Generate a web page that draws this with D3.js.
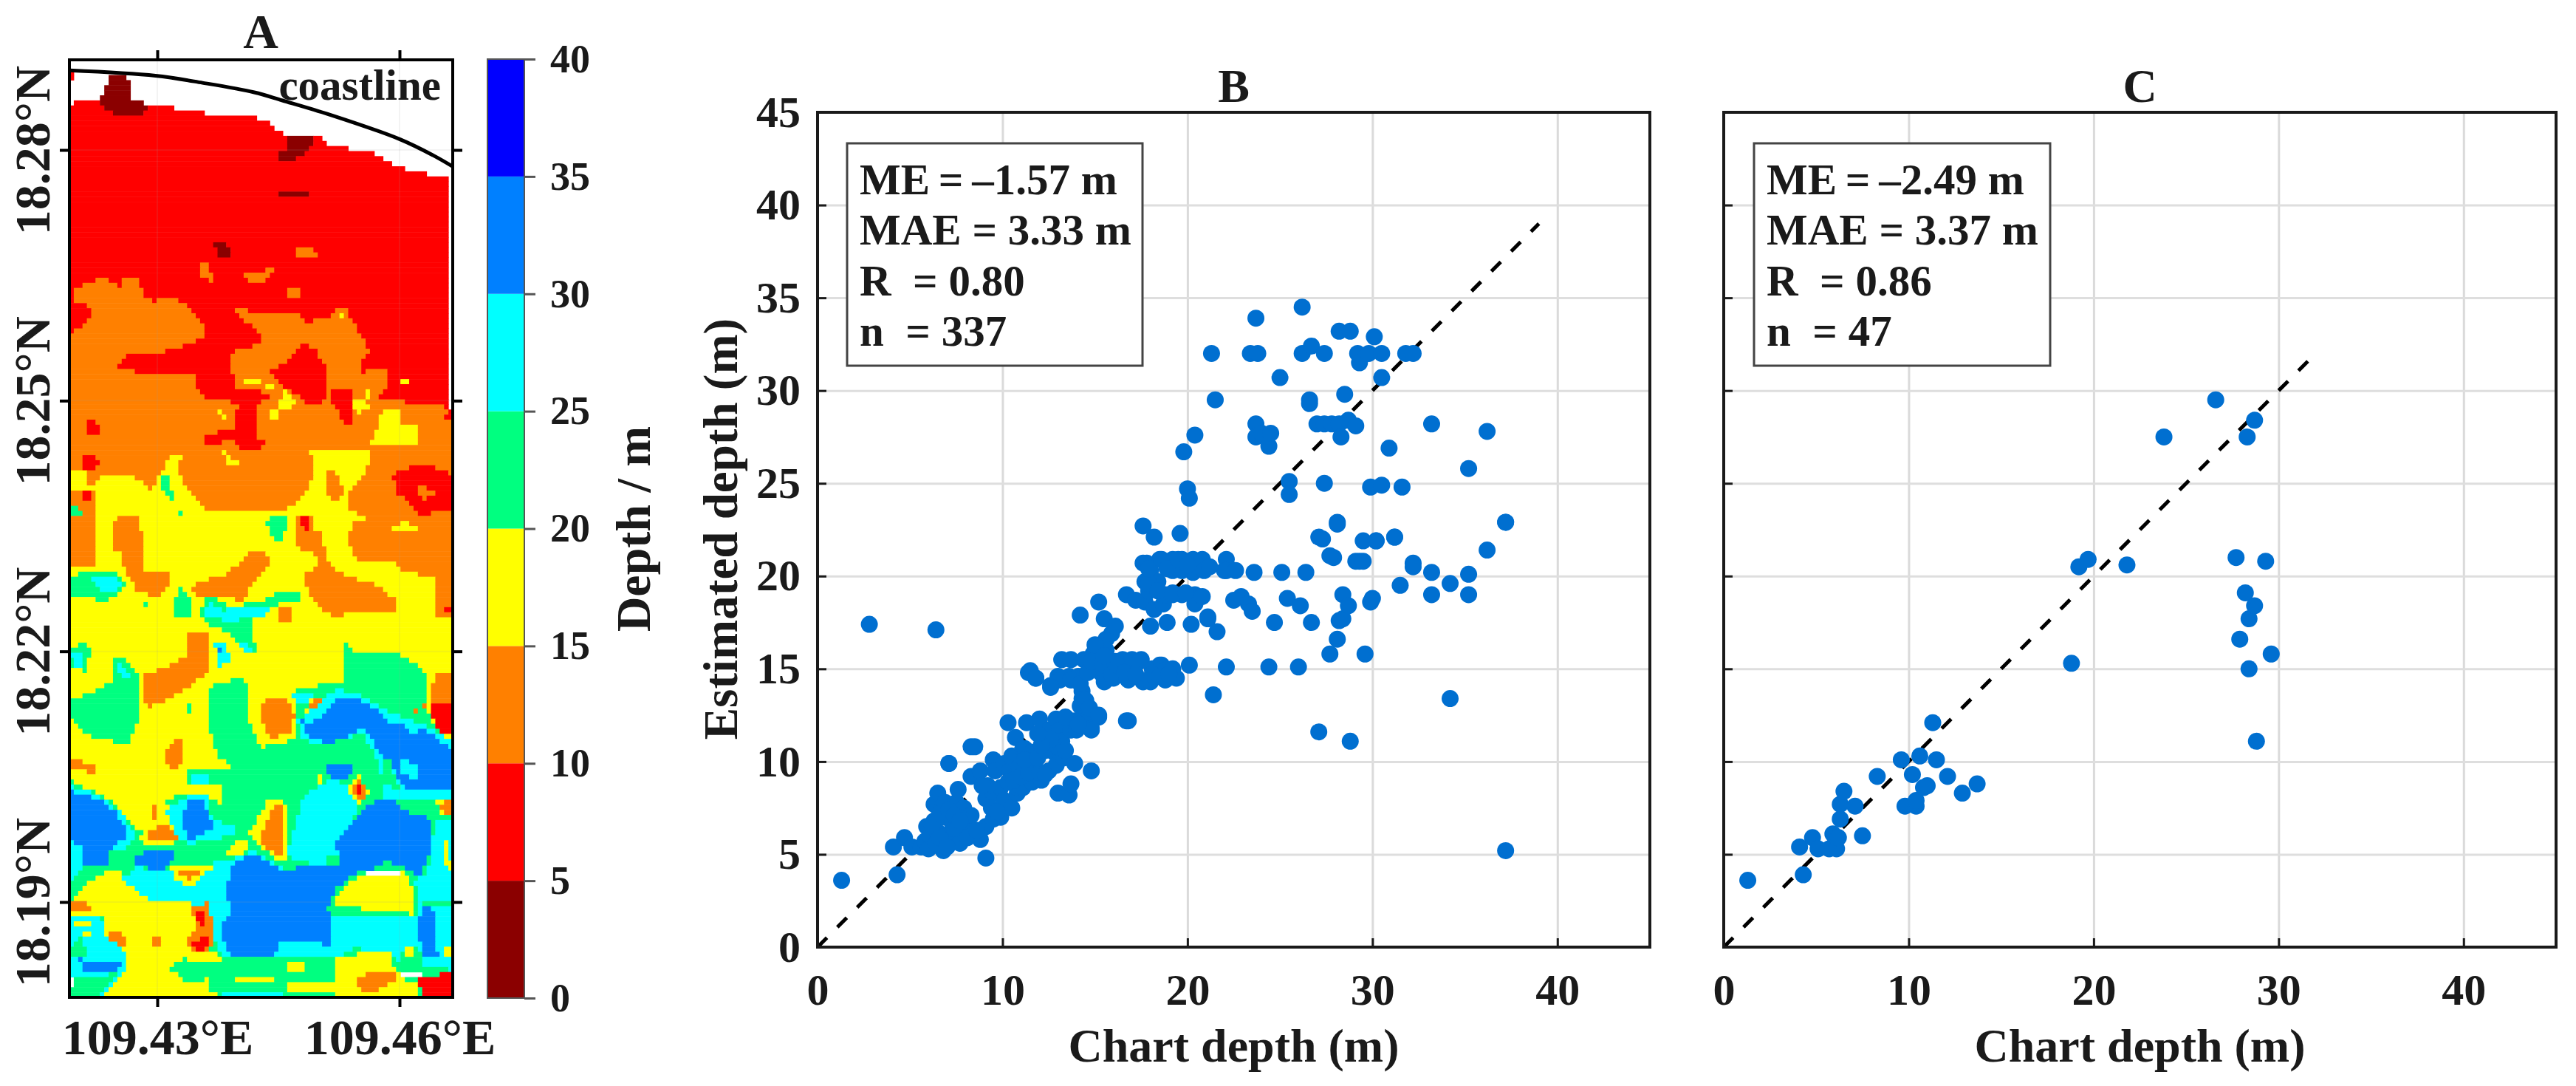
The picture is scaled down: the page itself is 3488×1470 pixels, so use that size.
<!DOCTYPE html>
<html lang="en">
<head>
<meta charset="UTF-8">
<title>Depth map and scatter</title>
<script src="https://cdnjs.cloudflare.com/ajax/libs/d3/7.8.5/d3.min.js"></script>
<style>
    body { margin: 0; background: #fff; }
    svg { display: block; }
    text { font-family: 'Liberation Serif', serif; font-weight: bold; fill: #1a1a1a; }
</style>
</head>
<body>
<div id="chart"></div>
<script>
// colour bar
const depthEdges = [0, 5, 10, 15, 20, 25, 30, 35, 40];
const depthColors = ['#8b0000', '#ff0000', '#ff8000', '#ffff00', '#00ff80', '#00ffff', '#0080ff', '#0000ff'];
const WHITE = 8;

// map ticks
const lonTicks = [109.43, 109.46];
const latTicks = [18.19, 18.22, 18.25, 18.28];
const depthTicksX = [0, 10, 20, 30, 40];
const depthTicksY = [0, 5, 10, 15, 20, 25, 30, 35, 40, 45];

// depth classes of panel A, digitised as outlines on a 147-962 by 170-2823 sheet, painted in order
const sheetSplit = 1505; // lower sheet rows start here
const zonesUpper = [
  [1, [[147,297],[175,282],[205,282],[320,295],[345,295],[390,318],[435,318],[445,327],[530,327],[570,345],[600,378],[670,380],[700,410],[760,428],[795,432],[855,478],[900,492],[952,505],[955,1160],[962,1160],[962,2900],[147,2900]]],
  [1, [[140,195],[160,195],[158,222],[140,225]]],
  [0, [[228,225],[255,205],[270,220],[280,280],[322,298],[300,322],[250,322],[240,340],[235,315],[208,295],[225,250]]],
  [0, [[615,380],[650,382],[665,395],[655,425],[625,450],[610,462],[588,462],[588,430],[610,420]]],
  [0, [[590,535],[655,545],[655,552],[590,550]]],
  [0, [[455,686],[478,690],[490,710],[490,735],[465,735]]],
  [2, [[628,712],[645,695],[665,700],[675,735],[628,735]]],
  [2, [[425,750],[440,750],[452,775],[450,800],[425,780]]],
  [2, [[520,775],[545,770],[585,760],[575,785],[550,800],[530,800]]],
  [2, [[610,825],[630,812],[645,830],[635,850],[615,840]]],
  [2, [[150,825],[175,805],[210,790],[235,795],[260,825],[260,780],[290,780],[305,840],[330,855],[350,840],[380,850],[412,885],[435,925],[500,880],[525,865],[530,890],[620,880],[650,912],[705,895],[730,860],[755,920],[785,1000],[765,1020],[765,1060],[795,1040],[822,1040],[822,1100],[805,1130],[940,1150],[955,1165],[962,1165],[962,2900],[147,2900],[147,945],[190,905],[195,870],[155,850]]],
  [1, [[435,900],[500,880],[530,920],[560,965],[530,985],[495,995],[490,1050],[505,1105],[555,1105],[570,1125],[545,1150],[545,1240],[572,1240],[550,1272],[515,1272],[490,1245],[440,1270],[435,1230],[500,1215],[505,1140],[440,1130],[415,1100],[415,1060],[300,1055],[250,1040],[275,995],[345,995],[405,975],[432,950]]],
  [1, [[645,970],[670,990],[695,1050],[695,1130],[665,1150],[640,1130],[600,1090],[570,1050],[610,1030]]],
  [1, [[700,1095],[745,1100],[750,1200],[735,1205],[700,1130]]],
  [1, [[185,1190],[200,1190],[212,1220],[195,1240],[185,1230]]],
  [1, [[175,1290],[205,1295],[212,1310],[195,1330],[175,1325]]],
  [1, [[945,1170],[962,1165],[962,1190],[945,1195]]],
  [1, [[835,1340],[860,1325],[920,1320],[962,1345],[962,1440],[925,1440],[910,1460],[885,1455],[870,1420],[840,1395]]],
  [2, [[885,1385],[905,1375],[925,1400],[900,1415]]],
  [3, [[520,1068],[550,1068],[550,1082],[522,1082]]],
  [3, [[560,1082],[580,1082],[580,1096],[560,1096]]],
  [3, [[600,1105],[612,1110],[630,1140],[610,1158],[590,1155]]],
  [3, [[455,1160],[470,1160],[485,1185],[465,1180]]],
  [3, [[575,1165],[590,1160],[590,1185],[575,1185]]],
  [3, [[745,1140],[765,1125],[785,1155],[765,1170]]],
  [3, [[775,1105],[785,1105],[785,1132],[775,1132]]],
  [3, [[855,1078],[870,1080],[870,1090],[855,1090]]],
  [3, [[725,880],[735,885],[735,900],[725,895]]],
  [3, [[475,1280],[490,1290],[505,1310],[485,1315]]],
  [3, [[790,1255],[815,1155],[850,1155],[855,1205],[890,1210],[890,1255]]],
  [3, [[660,1275],[780,1280],[815,1240],[790,1275],[780,1330],[735,1400],[740,1440],[780,1470],[745,1480],[745,1568],[962,1568],[962,2900],[147,2900],[147,1330],[185,1330],[185,1375],[205,1385],[205,1360],[225,1340],[280,1345],[320,1390],[340,1340],[360,1290],[385,1290],[380,1340],[400,1390],[430,1440],[600,1450],[650,1400],[670,1340]]],
  [2, [[690,1340],[715,1335],[735,1395],[720,1420],[690,1400]]],
  [2, [[485,1390],[505,1395],[515,1440],[500,1420]]],
  [2, [[147,1385],[205,1395],[205,1568],[147,1568]]],
  [3, [[147,1330],[185,1330],[185,1375],[147,1380]]],
  [1, [[175,1395],[195,1395],[195,1418],[175,1418]]],
  [2, [[235,1480],[255,1455],[290,1460],[300,1568],[235,1568]]],
  [2, [[625,1470],[660,1455],[680,1568],[640,1568],[625,1510]]],
  [1, [[640,1465],[658,1465],[660,1500],[645,1500]]],
  [3, [[825,1490],[860,1480],[890,1490],[880,1510],[835,1505]]],
  [4, [[340,1350],[355,1340],[365,1390],[375,1425],[360,1415],[340,1385]]],
  [4, [[378,1440],[388,1440],[388,1455],[380,1455]]],
  [4, [[147,1435],[165,1435],[175,1460],[147,1460]]],
  [4, [[565,1480],[585,1455],[610,1455],[610,1500],[590,1540],[575,1510]]]
];
const zonesLower = [
  [2, [[147,0],[205,0],[205,105],[147,105]]],
  [2, [[240,0],[300,0],[300,110],[360,120],[355,155],[340,190],[290,165],[265,110]]],
  [2, [[400,155],[480,120],[540,50],[580,70],[560,110],[510,200],[480,180],[430,190]]],
  [2, [[640,125],[680,100],[660,40],[650,0],[680,0],[700,100],[750,130],[800,150],[845,200],[845,225],[740,225],[715,250],[660,190]]],
  [2, [[740,0],[962,0],[962,250],[930,245],[920,130],[850,110],[840,85],[760,80],[745,50]]],
  [2, [[595,215],[615,215],[615,255],[595,255]]],
  [1, [[945,210],[958,210],[958,225],[945,225]]],
  [2, [[305,405],[370,375],[400,345],[400,285],[440,285],[445,390],[420,420],[380,460],[310,500]]],
  [2, [[345,640],[380,580],[392,590],[390,650],[370,680]]],
  [2, [[147,645],[205,660],[205,690],[170,675],[147,680]]],
  [4, [[147,125],[190,115],[245,120],[272,155],[250,175],[215,205],[190,180],[147,180]]],
  [5, [[195,135],[240,130],[260,150],[240,170],[210,165]]],
  [4, [[365,235],[380,155],[410,205],[405,240]]],
  [4, [[305,195],[320,215],[305,220]]],
  [4, [[420,240],[440,180],[490,215],[560,195],[605,165],[640,170],[640,195],[590,205],[530,255],[545,345],[520,335],[505,310],[490,290],[445,265]]],
  [5, [[430,235],[445,195],[470,225],[500,215],[575,210],[560,240],[510,250],[470,250]]],
  [5, [[455,320],[480,310],[490,375],[465,380]]],
  [6, [[458,330],[470,330],[470,345],[460,345]]],
  [5, [[505,315],[525,315],[540,345],[515,335]]],
  [4, [[147,330],[180,310],[195,340],[180,395],[147,380]]],
  [5, [[147,345],[180,340],[175,390],[155,375]]],
  [4, [[240,360],[260,355],[295,410],[295,510],[285,570],[270,605],[180,575],[147,515],[147,480],[205,450],[245,420]]],
  [5, [[250,375],[280,400],[270,415],[250,400]]],
  [4, [[395,490],[402,490],[402,510],[395,510]]],
  [2, [[345,640],[380,580],[392,590],[390,650],[370,680]]],
  // broad green of the south half
  [4, [[440,445],[470,425],[520,415],[530,480],[525,530],[555,610],[625,590],[625,450],[690,430],[735,420],[735,310],[750,345],[850,345],[905,400],[905,460],[962,600],[962,1400],[147,1400],[147,705],[200,735],[250,775],[290,840],[315,860],[360,880],[385,870],[375,800],[345,760],[400,740],[440,745],[470,770],[470,715],[400,715],[395,680],[470,675],[510,655],[470,650],[450,600]]],
  [3, [[230,708],[265,710],[265,718],[230,716]]],
  [5, [[405,680],[440,680],[440,715],[405,712]]],
  [3, [[925,395],[962,395],[962,620],[905,510],[905,460]]],
  [2, [[925,395],[962,395],[962,480],[920,485],[880,510],[915,480]]],
  [1, [[920,485],[962,480],[962,570],[935,575],[920,530]]],
  [2, [[558,480],[610,475],[625,520],[615,575],[570,585],[555,530]]],
  [5, [[620,460],[660,450],[670,470],[640,490]]],
  [3, [[650,525],[655,475],[685,465],[695,500],[675,530]]],
  [2, [[658,520],[662,478],[680,472],[688,500],[670,522]]],
  // blue on the east side with its cyan rim
  [5, [[630,540],[715,445],[760,460],[830,510],[900,545],[962,590],[962,755],[820,750],[800,640],[770,570],[690,605],[645,590]]],
  [6, [[640,535],[660,545],[705,500],[715,465],[760,470],[805,505],[830,545],[860,550],[880,575],[900,555],[962,620],[962,735],[880,735],[850,720],[840,680],[815,640],[790,590],[770,560],[720,590],[700,600],[650,575]]],
  [4, [[810,640],[835,640],[835,680],[850,725],[810,720]]],
  [5, [[850,640],[885,660],[885,710],[850,680]]],
  [6, [[695,665],[750,660],[750,690],[715,715],[700,700]]],
  [3, [[675,690],[685,690],[685,715],[675,715]]],
  // south: cyan base, blue block
  [5, [[258,985],[285,950],[370,960],[480,930],[540,905],[610,960],[700,950],[760,970],[880,985],[910,960],[925,810],[962,810],[962,1240],[850,1230],[830,1190],[750,1180],[710,1210],[600,1200],[560,1230],[475,1210],[440,1100],[400,1050],[320,1045]]],
  [5, [[610,920],[620,860],[645,750],[700,700],[745,720],[760,780],[740,860],[710,880],[725,925],[700,950],[640,935]]],
  [5, [[780,745],[962,740],[962,755],[830,755]]],
  [6, [[700,890],[750,830],[780,770],[830,755],[875,800],[915,810],[915,900],[890,980],[855,950],[820,930],[780,965],[750,980],[700,1050],[700,1150],[705,1175],[650,1155],[590,1160],[585,1200],[490,1200],[465,1130],[490,1070],[480,1010],[495,940],[540,910],[600,960],[650,945],[700,950],[725,930],[715,890]]],
  [4, [[695,920],[720,920],[720,950],[700,950]]],
  [3, [[740,730],[762,692],[786,735],[765,772]]],
  [2, [[745,730],[762,698],[782,735],[765,768]]],
  [1, [[752,730],[765,715],[772,740],[765,755]]],
  // west blue patches
  [5, [[147,720],[210,745],[260,800],[285,860],[270,895],[147,895]]],
  [6, [[147,735],[205,755],[245,790],[270,850],[260,880],[190,885],[147,880]]],
  [6, [[172,885],[240,890],[225,920],[245,935],[175,950]]],
  [5, [[147,885],[172,885],[170,960],[147,990]]],
  [6, [[280,930],[310,900],[365,900],[365,935],[340,965],[290,940]]],
  [5, [[350,790],[400,745],[440,750],[450,810],[500,840],[500,860],[400,885],[375,870]]],
  [6, [[385,810],[400,755],[430,755],[440,800],[460,830],[400,875]]],
  [3, [[295,850],[360,880],[385,875],[365,885],[300,880]]],
  [2, [[335,830],[360,835],[385,870],[315,870],[310,860]]],
  [2, [[325,780],[335,780],[335,820],[325,820]]],
  // central wedge
  [3, [[530,850],[570,760],[605,755],[610,935],[590,935],[545,880]]],
  [2, [[550,880],[580,780],[600,780],[600,925]]],
  [3, [[480,910],[500,870],[525,880],[520,910]]],
  // south-west yellow
  [3, [[147,1045],[180,1000],[240,950],[262,965],[262,990],[320,1045],[400,1050],[445,1110],[445,1180],[480,1210],[470,1318],[215,1318],[270,1240],[270,1190],[225,1150],[215,1085],[147,1085]]],
  [3, [[362,950],[450,950],[405,1005],[375,985]]],
  [2, [[375,960],[430,960],[405,985]]],
  [2, [[225,1140],[260,1130],[265,1170],[235,1170]]],
  [2, [[320,1145],[345,1155],[345,1180],[320,1175]]],
  [2, [[147,1045],[190,1055],[190,1080],[147,1075]]],
  [2, [[405,1060],[440,1050],[455,1130],[445,1190],[415,1195],[395,1160],[420,1120]]],
  [1, [[415,1075],[440,1085],[435,1115],[415,1100]]],
  [1, [[405,1160],[440,1145],[440,1175],[420,1190]]],
  [4, [[360,1235],[390,1210],[470,1220],[470,1318],[420,1280],[395,1280]]],
  [3, [[410,1285],[440,1260],[450,1318],[420,1318]]],
  [5, [[147,1090],[215,1090],[225,1150],[270,1190],[270,1240],[215,1318],[147,1318]]],
  [3, [[160,1105],[190,1105],[190,1118],[160,1118]]],
  [3, [[175,1130],[195,1130],[195,1145],[175,1145]]],
  [4, [[147,1180],[170,1150],[190,1200],[147,1210]]],
  [6, [[170,1210],[260,1225],[240,1245],[175,1240]]],
  [4, [[147,1265],[250,1250],[210,1318],[147,1318]]],
  [3, [[160,1270],[230,1270],[230,1282],[160,1282]]],
  [WHITE, [[150,1262],[160,1262],[160,1292],[150,1292]]],
  // yellow patch with green rim on the south-east
  [4, [[695,1070],[715,1010],[770,955],[860,955],[890,1020],[885,1095],[705,1085]]],
  [3, [[705,1060],[720,1015],[775,965],[860,965],[880,1020],[880,1085],[850,1075],[790,1070]]],
  [WHITE, [[780,962],[850,962],[850,972],[780,972]]],
  [6, [[900,1060],[920,1060],[925,1180],[950,1210],[905,1210],[885,1130]]],
  [4, [[895,1040],[962,1050],[962,1065],[895,1060]]],
  [3, [[940,880],[955,870],[958,955],[945,950]]],
  [3, [[928,762],[962,755],[962,805],[940,810]]],
  [2, [[935,770],[958,762],[958,800],[945,805]]],
  [3, [[945,1180],[958,1180],[958,1200],[945,1200]]],
  // bottom strip
  [4, [[470,1210],[600,1200],[710,1210],[710,1318],[460,1318]]],
  [3, [[500,1255],[580,1255],[580,1270],[500,1270]]],
  [3, [[610,1280],[710,1280],[710,1300],[610,1300]]],
  [3, [[610,1220],[650,1220],[650,1240],[610,1240]]],
  [5, [[475,1300],[600,1305],[600,1318],[475,1318]]],
  [3, [[710,1200],[830,1190],[840,1240],[890,1250],[890,1318],[710,1318]]],
  [2, [[755,1265],[800,1240],[835,1250],[850,1265],[800,1300],[770,1300]]],
  [4, [[850,1190],[890,1170],[900,1235],[850,1230]]],
  [3, [[860,1180],[880,1175],[880,1200],[860,1200]]],
  [1, [[890,1260],[962,1250],[962,1318],[895,1318]]],
  [WHITE, [[855,1250],[895,1250],[895,1256],[855,1256]]],
  [4, [[862,1262],[885,1262],[880,1280],[865,1280]]],
  [7, [[908,1226],[920,1226],[920,1238],[908,1238]]]
];
const coastLon = [147,330,430,540,600,700,850,920,962];
const coastLat = [200,215,235,262,285,325,395,440,472];

// panel B
const chartB = [1.3,4.3,4.1,4.7,5.1,5.6,5.8,5.9,6,6.1,6.3,6.3,6.4,6.5,6.5,6.7,6.8,6.9,6.9,6.9,7.1,7.2,7.3,7.5,7.5,7.6,7.6,7.7,7.9,8,8.3,8.3,8.3,8.5,8.8,8.8,9.1,9.1,9.1,9.5,9.5,9.5,9.6,9.9,9.9,10,10.1,10.1,10.3,10.4,10.5,10.5,10.7,10.8,10.8,10.9,11.1,11.1,11.2,11.3,11.5,11.6,11.6,11.7,11.8,12,12.1,12.5,12.5,12.6,12.8,12.9,12.9,13,13,13.1,13.2,13.2,13.3,13.6,13.6,13.7,13.7,13.7,13.9,14,14.1,14.2,14.3,14.3,14.3,14.4,14.5,14.6,14.7,14.8,14.8,14.8,14.9,15.1,15.2,15.2,15.3,15.5,15.5,15.6,15.6,15.8,15.9,15.9,16.1,16.1,16.3,16.5,16.8,17,17.5,17.6,18.5,18.8,2.8,6.4,7.1,8.3,11.4,11.8,13.1,13.7,14.2,12.6,14.2,15.2,16,16.7,16.8,17.2,17.4,17.6,17.6,17.7,17.7,17.8,17.9,18,18,18,18.1,18.2,18.2,18.4,18.5,18.6,18.7,18.8,18.8,18.9,18.9,19.2,19.2,19.2,19.2,19.4,19.6,19.7,19.7,19.7,20.1,20.2,20.3,20.3,20.3,20.4,20.4,20.8,20.8,20.9,21.1,21.1,21.4,21.6,22,22.1,22.1,22.1,22.5,22.6,22.9,23.3,23.5,23.6,24.4,24.7,25.1,25.4,26,26.1,26.4,26.7,27.1,27.3,27.7,27.9,28.1,28.1,28.2,28.4,28.4,28.7,28.8,29.3,29.5,29.6,29.9,30,30.2,31.2,31.5,32.2,32.2,33.2,33.2,34.2,34.2,35.2,35.2,37.2,16.7,19.8,20,20.1,20.4,21.3,21.5,23.4,23.7,23.7,23.7,23.8,24,24.4,24.5,25,25.5,25.5,26.2,26.2,26.6,26.6,26.7,27,27.1,27.4,27.4,27.4,27.7,27.8,28.1,28.2,28.2,28.3,28.5,28.7,28.8,29.1,29.1,29.2,29.3,29.5,29.8,29.9,30.1,30.2,30.5,30.5,30.5,30.9,31.2,31.6,31.8,32.2,33.2,35.2,36.2,36.2,37.2,37.2,6.2,6.6,7,7.4,7.8,8.1,8.6,6.6,7.1,7.4,7.7,9.4,9.7,9.2,8.9,10.3,10.6,11,11.4,12,12.3,11.2,11.9,12.3,13,13.4,12.6,12.1,11.9,13.9,13.4,14.1,14.6,14.8,15,15.4,15.9,16.2,16.6,17.2,15.5,18.1,18.5,19,17.9,17.9,18.6,18.9,19.5,20,21.2,18.4,19.2,19.9];
const estimatedB = [3.6,3.9,5.4,5.9,5.4,5.4,5.7,6.5,5.3,6,7.7,6.8,5.6,8.3,6.2,7.4,5.2,6,7,7.8,9.9,6.2,6.7,5.7,7.8,8.5,6.2,5.6,7.5,6.5,9.2,7.1,6.2,10.8,5.8,9.5,6.5,8,4.8,10.1,8.3,6.9,9.5,7,8.6,7.5,9.9,7.9,12.1,9.5,7.5,10.3,11.3,8.3,8.6,9.7,10.7,8.6,10.7,12.1,14.9,10.5,8.9,9.8,14.5,12.3,9,9.5,11.7,14.1,10.5,9.8,12.3,14.6,8.3,11.7,15.5,11.1,10.2,14.6,8.2,15.5,11.7,8.8,9.9,11.7,14.6,13,13.4,13.8,12.3,15.5,13.3,12.3,12.9,9.5,11.8,11.7,15.8,16.2,12.4,12.5,14.8,14.3,17.7,16,16.6,15.4,15.1,16.9,17.3,15.4,14.7,15.5,14.4,15.5,15.5,14.3,15.2,14.4,17.4,17.1,9.9,10.8,14.8,14.5,14.4,14.4,14.2,14,17.9,18.6,14.5,19,12.2,18.7,15.4,20.7,22.7,18.6,19.7,20.7,19.2,17.3,20.3,14.3,15,22.1,18.2,19.7,20.9,15.2,18.5,14.9,19,14.5,17.5,19.1,20.9,20.3,15,14.5,22.3,19,20.9,20.3,15.2,17.4,20.2,20.9,20.3,19,18.5,18.9,20.9,20.3,17.7,17.8,13.6,17,20.3,20.9,20.3,15.1,18.7,20.3,18.9,18.5,18.1,20.2,15.1,17.5,20.2,18.8,15.1,18.4,20.2,17.5,11.6,22,15.8,21,16.6,22.8,17.6,19,17.7,18.4,11.1,20.8,21.9,15.8,18.6,18.8,21.9,22.1,19.5,20.7,20.5,20.2,19,19.6,13.4,20.1,19,22.9,12.2,26.7,24.7,24.2,27.6,32,29.5,32,28.2,27.5,33.9,32,27.7,27,27.7,30.7,25.1,24.4,34.5,32,29.5,29.3,32.4,28.2,22.1,25,28.2,32,21.1,28.2,22.9,33.2,28.2,27.5,29.8,28.4,33.2,28.1,20.8,32,31.5,20.8,32,24.8,32.9,21.9,32,24.9,30.7,26.9,22.1,24.8,32,32,28.2,25.8,27.8,21.4,22.9,5.2,6.6,5.9,5.4,6.4,6.9,5.9,6.3,7.2,7.4,7.1,6.8,7.5,7.3,8.7,8.7,8.9,9,9.2,9.4,9.4,9.3,10.1,10.2,10.6,10.8,10.6,11.2,10.9,11.5,12.2,12.4,12,14.8,15.4,16.3,15.3,14.7,15.2,14.8,14.7,15.7,14.7,14.6,14.7,19.6,20.4,20.9,20.4,20.9,20.6,20.5,19.2,19,19.1];

// panel C
const chartC = [1.3,4.3,4.1,4.8,5.1,5.7,5.9,6.1,6.2,6.3,6.3,6.5,7.1,7.5,8.3,9.6,9.8,10.2,10.4,10.4,10.6,10.8,11,11.3,11.5,12.1,12.9,13.7,18.8,19.2,19.7,21.8,23.8,26.6,27.7,27.9,28.2,28.3,28.4,28.4,28.7,28.7,28.8,29.3,29.6];
const estimatedC = [3.6,3.9,5.4,5.9,5.3,5.3,6.1,5.3,5.9,6.9,7.7,8.4,7.6,6,9.2,10.1,7.6,9.3,7.6,7.9,10.3,8.6,8.7,12.1,10.1,9.2,8.3,8.8,15.3,20.5,20.9,20.6,27.5,29.5,21,16.6,19.1,27.5,17.7,15,18.4,28.4,11.1,20.8,15.8];

const statsB = ['ME\u2009=\u2009\u20131.57 m', 'MAE = 3.33 m', 'R\u2002= 0.80', 'n\u2002= 337'];
const statsC = ['ME\u2009=\u2009\u20132.49 m', 'MAE = 3.37 m', 'R\u2002= 0.86', 'n\u2002= 47'];

const width = 3488, height = 1470;
const svg = d3.select('#chart').append('svg').attr('width', width).attr('height', height);

// ---------- panel A ----------
const mapBox = { left: 94, right: 613, top: 81, bottom: 1350 };
const lonScale = d3.scaleLinear().domain([109.43, 109.46]).range([213, 541]);
const latScale = d3.scaleLinear().domain([18.19, 18.28]).range([1221, 203]);
const sheetX = d3.scaleLinear().domain([147, 962]).range([mapBox.left, mapBox.right]);
const sheetY = d3.scaleLinear().domain([170, sheetSplit + 1318]).range([mapBox.top, mapBox.bottom]);

const nCols = 88, nRows = 185;
const colScale = d3.scaleBand().domain(d3.range(nCols)).range([mapBox.left, mapBox.right]);
const rowScale = d3.scaleBand().domain(d3.range(nRows)).range([mapBox.top, mapBox.bottom]);

const zones = zonesUpper.concat(zonesLower.map(z => [z[0], z[1].map(p => [p[0], p[1] + sheetSplit])]))
    .map(z => ({ k: z[0], poly: z[1].map(p => [sheetX(p[0]), sheetY(p[1])]) }));

// sample the outlines onto the grid so the map keeps its pixel look
const runs = [];
d3.range(nRows).forEach(r => {
    const cy = rowScale(r) + rowScale.bandwidth() / 2;
    let cur = null;
    d3.range(nCols).forEach(c => {
        const cx = colScale(c) + colScale.bandwidth() / 2;
        let k = null;
        for (let i = zones.length - 1; i >= 0; i--) {
            if (d3.polygonContains(zones[i].poly, [cx, cy])) { k = zones[i].k; break; }
        }
        if (cur && cur.k === k) { cur.end = c; }
        else {
            cur = { k: k, r: r, start: c, end: c };
            runs.push(cur);
        }
    });
});

const gMap = svg.append('g');
gMap.selectAll('rect.cell')
    .data(runs.filter(d => d.k !== null && d.k !== WHITE))
    .join('rect')
    .attr('class', 'cell')
    .attr('x', d => colScale(d.start))
    .attr('y', d => rowScale(d.r))
    .attr('width', d => colScale(d.end) + colScale.bandwidth() - colScale(d.start) + 0.5)
    .attr('height', rowScale.bandwidth() + 0.5)
    .attr('fill', d => depthColors[d.k]);

// faint graticule
gMap.selectAll('line.gx').data(lonTicks).join('line').attr('class', 'gx')
    .attr('x1', d => lonScale(d)).attr('x2', d => lonScale(d))
    .attr('y1', mapBox.top).attr('y2', mapBox.bottom)
    .attr('stroke', '#999').attr('stroke-opacity', 0.12).attr('stroke-width', 2);
gMap.selectAll('line.gy').data(latTicks).join('line').attr('class', 'gy')
    .attr('y1', d => latScale(d)).attr('y2', d => latScale(d))
    .attr('x1', mapBox.left).attr('x2', mapBox.right)
    .attr('stroke', '#999').attr('stroke-opacity', 0.12).attr('stroke-width', 2);

// coastline
const coast = d3.line().x(d => sheetX(d[0])).y(d => sheetY(d[1])).curve(d3.curveCatmullRom);
svg.append('path').datum(coastLon.map((v, i) => [v, coastLat[i]]))
    .attr('d', coast).attr('fill', 'none').attr('stroke', '#000').attr('stroke-width', 5);
svg.append('text').attr('x', 597).attr('y', 135).attr('text-anchor', 'end')
    .style('font-size', '59px').text('coastline');

svg.append('rect').attr('x', mapBox.left).attr('y', mapBox.top)
    .attr('width', mapBox.right - mapBox.left).attr('height', mapBox.bottom - mapBox.top)
    .attr('fill', 'none').attr('stroke', '#000').attr('stroke-width', 4);

const mapAxisStyle = g => {
    g.select('.domain').remove();
    g.selectAll('.tick line').attr('stroke', '#000').attr('stroke-width', 4);
    g.selectAll('text').style('font-size', '68px').attr('fill', '#111');
};
svg.append('g').attr('transform', `translate(0,${mapBox.bottom})`)
    .call(d3.axisBottom(lonScale).tickValues(lonTicks).tickSize(13).tickFormat(d => d3.format('.2f')(d) + '°E'))
    .call(mapAxisStyle)
    .call(g => g.selectAll('text').attr('y', 77).attr('dy', 0));
svg.append('g').attr('transform', `translate(0,${mapBox.top})`)
    .call(d3.axisTop(lonScale).tickValues(lonTicks).tickSize(13).tickFormat(''))
    .call(mapAxisStyle);
svg.append('g').attr('transform', `translate(${mapBox.left},0)`)
    .call(d3.axisLeft(latScale).tickValues(latTicks).tickSize(13).tickFormat(d => d3.format('.2f')(d) + '°N'))
    .call(mapAxisStyle)
    .call(g => g.selectAll('text').attr('x', 0).attr('y', 0).attr('dy', 0).attr('text-anchor', 'middle')
        .attr('transform', 'translate(-27,0) rotate(-90)'));
svg.append('g').attr('transform', `translate(${mapBox.right},0)`)
    .call(d3.axisRight(latScale).tickValues(latTicks).tickSize(13).tickFormat(''))
    .call(mapAxisStyle);

svg.append('text').attr('x', 353).attr('y', 65).attr('text-anchor', 'middle').style('font-size', '66px').text('A');

// ---------- colour bar ----------
const barScale = d3.scaleLinear().domain([0, 40]).range([1351, 80]);
const bands = d3.range(depthColors.length);
svg.append('g').selectAll('rect').data(bands).join('rect')
    .attr('x', 660).attr('width', 50)
    .attr('y', d => barScale(depthEdges[d + 1]))
    .attr('height', d => barScale(depthEdges[d]) - barScale(depthEdges[d + 1]))
    .attr('fill', d => depthColors[d]);
svg.append('rect').attr('x', 660).attr('y', 80).attr('width', 50).attr('height', 1271)
    .attr('fill', 'none').attr('stroke', '#555').attr('stroke-width', 2);
svg.append('g').attr('transform', 'translate(710,0)')
    .call(d3.axisRight(barScale).tickValues(depthEdges).tickSize(15).tickPadding(20))
    .call(g => g.select('.domain').remove())
    .call(g => g.selectAll('.tick line').attr('stroke', '#555').attr('stroke-width', 3))
    .call(g => g.selectAll('text').style('font-size', '54px').attr('fill', '#111'));
svg.append('text').attr('transform', 'translate(880,716) rotate(-90)').attr('text-anchor', 'middle')
    .style('font-size', '66px').text('Depth / m');

// ---------- scatter panels ----------
function scatter(opts) {
    const top = 152, bottom = 1282;
    const x = d3.scaleLinear().domain([0, 45]).range([opts.left, opts.left + 1127]);
    const y = d3.scaleLinear().domain([0, 45]).range([bottom, top]);
    const g = svg.append('g');

    g.append('g').attr('transform', `translate(0,${bottom})`)
        .call(d3.axisBottom(x).tickValues(depthTicksX).tickSize(-(bottom - top)).tickFormat(''))
        .call(a => a.select('.domain').remove())
        .call(a => a.selectAll('line').attr('stroke', '#dadada').attr('stroke-width', 3));
    g.append('g').attr('transform', `translate(${opts.left},0)`)
        .call(d3.axisLeft(y).tickValues(depthTicksY).tickSize(-1127).tickFormat(''))
        .call(a => a.select('.domain').remove())
        .call(a => a.selectAll('line').attr('stroke', '#dedede').attr('stroke-width', 3));

    g.append('rect').attr('x', opts.boxLeft).attr('y', 194).attr('width', opts.boxWidth).attr('height', 301)
        .attr('fill', '#fff').attr('stroke', '#444').attr('stroke-width', 3);
    g.selectAll('text.stat').data(opts.stats).join('text').attr('class', 'stat')
        .attr('x', opts.boxLeft + 17)
        .attr('y', (d, i) => 263 + i * 68.3)
        .style('font-size', '59px')
        .text(d => d);

    const last = opts.lineEnd;
    g.append('path').datum([0, last])
        .attr('d', d3.line().x(d => x(d)).y(d => y(d)))
        .attr('stroke', '#000').attr('stroke-width', 5).attr('stroke-dasharray', '18 20').attr('fill', 'none');

    g.selectAll('circle').data(opts.xs).join('circle')
        .attr('cx', d => x(d))
        .attr('cy', (d, i) => y(opts.ys[i]))
        .attr('r', 11.5)
        .attr('fill', '#006fd0');

    g.append('rect').attr('x', opts.left).attr('y', top).attr('width', 1127).attr('height', bottom - top)
        .attr('fill', 'none').attr('stroke', '#1a1a1a').attr('stroke-width', 4);

    const axisStyle = a => {
        a.select('.domain').remove();
        a.selectAll('.tick line').attr('stroke', '#1a1a1a').attr('stroke-width', 3);
        a.selectAll('text').style('font-size', '60px').attr('fill', '#1a1a1a');
    };
    g.append('g').attr('transform', `translate(0,${bottom})`)
        .call(d3.axisBottom(x).tickValues(depthTicksX).tickSize(-12).tickFormat(d3.format('d')))
        .call(axisStyle)
        .call(a => a.selectAll('text').attr('y', 78).attr('dy', 0));
    g.append('g').attr('transform', `translate(${opts.left},0)`)
        .call(d3.axisLeft(y).tickValues(depthTicksY).tickSize(-12).tickPadding(23).tickFormat(opts.yLabels ? d3.format('d') : ''))
        .call(axisStyle);

    g.append('text').attr('x', x(22.5)).attr('y', 138).attr('text-anchor', 'middle').style('font-size', '64px').text(opts.title);
    g.append('text').attr('x', x(22.5)).attr('y', 1437).attr('text-anchor', 'middle').style('font-size', '64px').text('Chart depth (m)');
}

scatter({ left: 1107, title: 'B', xs: chartB, ys: estimatedB, stats: statsB, boxLeft: 1147, boxWidth: 400, lineEnd: 39, yLabels: true });
scatter({ left: 2334, title: 'C', xs: chartC, ys: estimatedC, stats: statsC, boxLeft: 2375, boxWidth: 401, lineEnd: 31.6, yLabels: false });

svg.append('text').attr('transform', 'translate(998,716) rotate(-90)').attr('text-anchor', 'middle')
    .style('font-size', '65px').text('Estimated depth (m)');
</script>
</body>
</html>
